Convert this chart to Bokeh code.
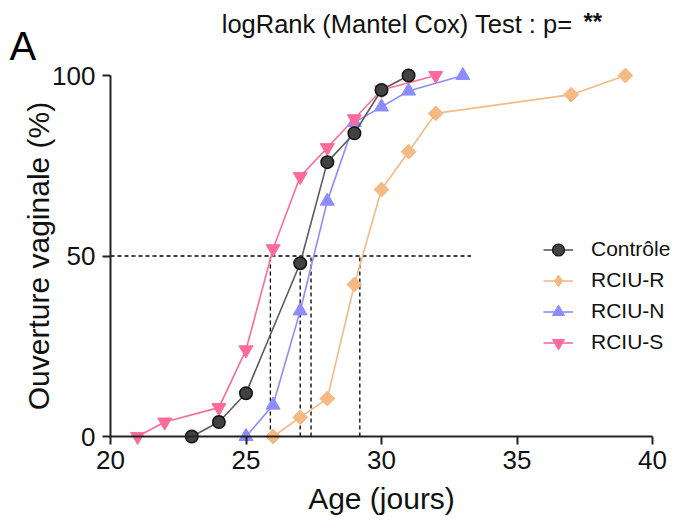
from bokeh.plotting import figure
from bokeh.models import (Label, Legend, LegendItem, FixedTicker, Range1d)
from bokeh.embed import file_html
from bokeh.resources import INLINE
import math

# ---- data ----
ages_controle = [23, 24, 25, 27, 28, 29, 30, 31]
pct_controle = [0, 4, 12, 48, 76, 84, 96, 100]

ages_rciu_r = [26, 27, 28, 29, 30, 31, 32, 37, 39]
pct_rciu_r = [0, 5.3, 10.5, 42.1, 68.4, 78.9, 89.5, 94.7, 100]

ages_rciu_n = [25, 26, 27, 28, 29, 30, 31, 33]
pct_rciu_n = [0, 8.7, 34.8, 65.2, 87.0, 91.3, 95.7, 100]

ages_rciu_s = [21, 22, 24, 25, 26, 27, 28, 29, 30, 32]
pct_rciu_s = [0, 4, 8, 24, 52, 72, 80, 88, 96, 100]

series_names = ["Contrôle", "RCIU-R", "RCIU-N", "RCIU-S"]
median_ages = [27.0, 29.2, 27.4, 25.9]
median_level = 50
median_line_x = [20, 33.3]

x_ticks = [20, 25, 30, 35, 40]
y_ticks = [0, 50, 100]

title_text = "logRank (Mantel Cox) Test : p="
signif_text = "**"
panel_letter = "A"

FONT = "Liberation Sans"

W, H = 674, 525
# pixel geometry of the axes box
AX_L, AX_R, AX_T, AX_B = 110, 652, 75, 436
X0, X1, Y0, Y1 = 20, 40, 0, 100
kx = (AX_R - AX_L) / (X1 - X0)
ky = (AX_B - AX_T) / (Y1 - Y0)
x_start = X0 - AX_L / kx
x_end = x_start + W / kx
y_end = Y1 + AX_T / ky
y_start = y_end - H / ky

p = figure(width=W, height=H, output_backend="svg", toolbar_location=None,
           x_range=Range1d(x_start, x_end), y_range=Range1d(y_start, y_end),
           min_border=0, min_border_left=0, min_border_right=0,
           min_border_top=0, min_border_bottom=0)
p.outline_line_color = None
p.xgrid.visible = False
p.ygrid.visible = False
p.background_fill_color = "white"
p.border_fill_color = "white"

# axes
for ax in (p.xaxis[0], p.yaxis[0]):
    ax.axis_line_width = 2
    ax.axis_line_color = "#222222"
    ax.major_tick_line_width = 2
    ax.major_tick_line_color = "#222222"
    ax.major_tick_out = 8
    ax.major_tick_in = 0
    ax.minor_tick_line_color = None
    ax.major_label_text_font = FONT
    ax.major_label_text_font_size = "26px"
    ax.major_label_text_color = "#111111"
    ax.axis_label_text_font = FONT
    ax.axis_label_text_font_size = "30px"
    ax.axis_label_text_font_style = "normal"
    ax.axis_label_text_color = "#111111"

p.xaxis.ticker = FixedTicker(ticks=x_ticks)
p.yaxis.ticker = FixedTicker(ticks=y_ticks)
p.xaxis.bounds = (X0, X1)
p.yaxis.bounds = (Y0, Y1)
p.xaxis.fixed_location = Y0
p.yaxis.fixed_location = X0
p.xaxis.major_label_standoff = 6
p.yaxis.major_label_standoff = 7
p.xaxis.axis_label = "Age (jours)"
p.yaxis.axis_label = "Ouverture vaginale (%)"
p.xaxis.axis_label_standoff = 10
p.yaxis.axis_label_standoff = -6

# median reference lines
p.segment(x0=[median_line_x[0]], y0=[median_level], x1=[median_line_x[1]], y1=[median_level],
          line_color="black", line_width=1.3, line_dash="4 3")
p.segment(x0=median_ages, y0=[0] * len(median_ages), x1=median_ages,
          y1=[median_level] * len(median_ages),
          line_color="black", line_width=1.3, line_dash="4 3")

C_R, C_N, C_S = "#F5B984", "#8C8CFF", "#FF6A9B"

# RCIU-R
lr = p.line(ages_rciu_r, pct_rciu_r, line_color=C_R, line_width=1.6)
p.scatter(ages_rciu_r, pct_rciu_r, marker="square", size=10.5, angle=math.pi / 4,
          fill_color=C_R, line_color=C_R)
# RCIU-N
ln = p.line(ages_rciu_n, pct_rciu_n, line_color=C_N, line_width=1.6)
p.scatter(ages_rciu_n, pct_rciu_n, marker="triangle", size=14,
          fill_color=C_N, line_color=C_N)
# RCIU-S
ls = p.line(ages_rciu_s, pct_rciu_s, line_color=C_S, line_width=1.6)
p.scatter(ages_rciu_s, pct_rciu_s, marker="inverted_triangle", size=14,
          fill_color=C_S, line_color=C_S)
# Contrôle
lc = p.line(ages_controle, pct_controle, line_color="#5a5a5a", line_width=1.6)
p.scatter(ages_controle, pct_controle, marker="circle", size=12.5,
          fill_color="#424242", line_color="#111111", line_width=1.5)

# smaller legend-only markers (hidden in the plot)
kc = p.scatter(ages_controle, pct_controle, marker="circle", size=9,
               fill_color="#424242", line_color="#111111", line_width=1.2, visible=False)
kr = p.scatter(ages_rciu_r, pct_rciu_r, marker="diamond", size=13,
               fill_color=C_R, line_color=C_R, visible=False)
kn = p.scatter(ages_rciu_n, pct_rciu_n, marker="triangle", size=10,
               fill_color=C_N, line_color=C_N, visible=False)
ks = p.scatter(ages_rciu_s, pct_rciu_s, marker="inverted_triangle", size=10,
               fill_color=C_S, line_color=C_S, visible=False)

items = [LegendItem(label=series_names[0], renderers=[lc, kc]),
         LegendItem(label=series_names[1], renderers=[lr, kr]),
         LegendItem(label=series_names[2], renderers=[ln, kn]),
         LegendItem(label=series_names[3], renderers=[ls, ks])]
legend = Legend(items=items, location=(543, H - 357.5), orientation="vertical",
                label_text_font=FONT, label_text_font_size="21px",
                label_text_color="#111111",
                glyph_width=30, glyph_height=31, label_height=31, spacing=0,
                padding=0, margin=0, label_standoff=18,
                background_fill_alpha=0, border_line_color=None)
p.add_layout(legend)

# texts above the plot (screen units: from left, from bottom)
p.add_layout(Label(x=9, y=H - 45, x_units="screen", y_units="screen", text=panel_letter,
                   text_font=FONT, text_font_size="40px", text_color="black",
                   text_baseline="alphabetic"))
p.add_layout(Label(x=572, y=H - 23.5, x_units="screen", y_units="screen", text=title_text,
                   text_font=FONT, text_font_size="25.5px", text_color="#111111",
                   text_align="right", text_baseline="alphabetic"))
p.add_layout(Label(x=583, y=H - 21, x_units="screen", y_units="screen", text=signif_text,
                   text_font=FONT, text_font_size="24px", text_font_style="bold",
                   text_color="#111111", text_baseline="alphabetic"))

open("out.html", "w").write(file_html(p, INLINE))
